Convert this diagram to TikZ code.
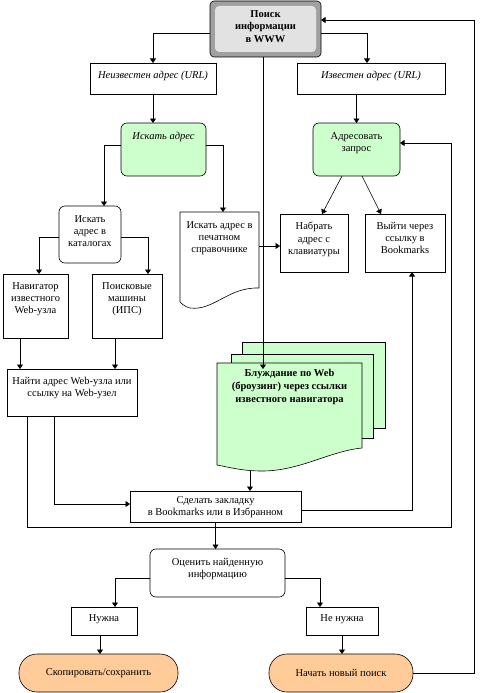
\documentclass[tikz,border=0pt]{standalone}
\usepackage{fontspec}
\setmainfont{Liberation Serif}
\usetikzlibrary{arrows.meta,calc}
\definecolor{lgreen}{HTML}{CCFFCC}
\definecolor{lorange}{HTML}{FFCC99}
\definecolor{bevel}{HTML}{A0A0A0}
\definecolor{panel}{HTML}{E2E2E2}
\begin{document}
\begin{tikzpicture}[x=1pt,y=-1pt,
  font=\fontsize{10.5}{12.2}\selectfont,
  line width=0.6pt,
  box/.style={draw, fill=white, inner sep=0pt, outer sep=0pt},
  rbox/.style={box, rounded corners=6pt},
  gbox/.style={rbox, fill=lgreen},
  pill/.style={box, fill=lorange, rounded corners=18pt},
  lab/.style={anchor=north, align=center, inner sep=0pt},
  ghost/.style={inner sep=0pt, outer sep=0pt},
  docg/.style={draw, fill=lgreen},
  arr/.style={-{Triangle[length=4.5pt,width=6pt]}}]
\fill[white] (0,0) rectangle (479,693);
\useasboundingbox (0,0) rectangle (479,693);

% top node
\node[box, fill=bevel, rounded corners=4pt, minimum width=111pt, minimum height=56pt,
  path picture={\fill[panel] ($(path picture bounding box.north west)+(5pt,-5pt)$) rectangle ($(path picture bounding box.south east)+(-5pt,5pt)$);},
  label={[lab, yshift=-9pt, font=\fontsize{10.5}{12.5}\selectfont\bfseries]north:Поиск\\информации\\в WWW}] (top) at (265.5,29) {};

\node[box, minimum width=126pt, minimum height=31pt,
  label={[lab, yshift=-8pt, font=\fontsize{10.5}{12}\selectfont\itshape]north:Неизвестен адрес (URL)}] (unk) at (153,78.5) {};
\node[box, minimum width=148pt, minimum height=31pt,
  label={[lab, yshift=-8pt, font=\fontsize{10.5}{12}\selectfont\itshape]north:Известен адрес (URL)}] (kn) at (371,78.5) {};

\node[gbox, minimum width=85pt, minimum height=53pt,
  label={[lab, yshift=-9pt, font=\fontsize{10.5}{12}\selectfont\itshape]north:Искать адрес}] (iskat) at (163.5,149.5) {};
\node[gbox, minimum width=87pt, minimum height=53pt,
  label={[lab, yshift=-9pt]north:Адресовать\\запрос}] (adr) at (356.5,149.5) {};

\node[rbox, minimum width=62pt, minimum height=57pt,
  label={[lab, yshift=-9pt]north:Искать\\адрес в\\каталогах}] (iskkat) at (90,234.5) {};

% printed directory (document shape)
\fill[white] (180,212) -- (259,212) -- (259,288) .. controls (228,287) and (214,311) .. (190,308) .. controls (186,307) and (183,305) .. (180,302) -- cycle;
\draw (180,212) -- (259,212) -- (259,288) .. controls (228,287) and (214,311) .. (190,308) .. controls (186,307) and (183,305) .. (180,302) -- cycle;
\node[ghost, minimum width=79pt, minimum height=91pt,
  label={[lab, yshift=-9pt]north:Искать адрес в\\печатном\\справочнике}] (printdoc) at (219.5,257.5) {};

\node[box, minimum width=68pt, minimum height=58pt,
  label={[lab, yshift=-8pt]north:Набрать\\адрес с\\клавиатуры}] (nabrat) at (314,243) {};
\node[box, minimum width=80pt, minimum height=58pt,
  label={[lab, yshift=-8pt]north:Выйти через\\ссылку в\\Bookmarks}] (vyiti) at (405,243) {};

\node[box, minimum width=65pt, minimum height=64pt,
  label={[lab, yshift=-8pt]north:Навигатор\\известного\\Web-узла}] (navig) at (35.5,306) {};
\node[box, minimum width=70pt, minimum height=64pt,
  label={[lab, yshift=-8pt]north:Поисковые\\машины\\(ИПС)}] (poisk) at (127,306) {};

\node[box, minimum width=130pt, minimum height=47pt,
  label={[lab, yshift=-8pt]north:Найти адрес Web-узла или\\ссылку на Web-узел}] (naiti) at (72,392.5) {};

% browsing multi-document
\filldraw[docg] (242,342) rectangle (385,428);
\filldraw[docg] (231,354) rectangle (373,438);
\filldraw[docg] (217,363) -- (362,363) -- (362,448) .. controls (330,451) and (300,471) .. (262,471) .. controls (242,471) and (228,467) .. (217,465) -- cycle;
\node[ghost, minimum width=145pt, minimum height=107pt,
  label={[lab, yshift=-6pt, font=\fontsize{10.5}{13}\selectfont\bfseries]north:Блуждание по Web\\(броузинг) через ссылки\\известного навигатора}] (browse) at (289.5,416.5) {};

\node[box, minimum width=171pt, minimum height=31pt,
  label={[lab, yshift=-5pt]north:Сделать закладку\\в Bookmarks или в Избранном}] (zakl) at (215.5,506.5) {};

\node[rbox, minimum width=135pt, minimum height=48pt,
  label={[lab, yshift=-9pt]north:Оценить найденную\\информацию}] (ocen) at (217.5,573) {};

\node[box, minimum width=66pt, minimum height=28pt,
  label={[lab, yshift=-7pt]north:Нужна}] (nuzhna) at (104,621) {};
\node[box, minimum width=72pt, minimum height=28pt,
  label={[lab, yshift=-7pt]north:Не нужна}] (nenuzh) at (342,621) {};

\node[pill, minimum width=159pt, minimum height=38pt] (copy) at (98.5,673) {Скопировать/сохранить};
\node[pill, minimum width=144pt, minimum height=38pt] (newsearch) at (341,673) {Начать новый поиск};

% connectors
\coordinate (fb) at (451,527);
\coordinate (rt) at (474,20);
\draw[arr] ($(top.west)+(0,4)$) -| (unk.north);
\draw[arr] ($(top.east)+(0,4)$) -| ($(kn.north)+(-4,0)$);
\draw[arr] (unk.south) -- (unk.south |- iskat.north);
\draw[arr] (adr.north |- kn.south) -- (adr.north);
\draw[arr] ($(top.south)+(-2.5,0)$) -- ($(top.south |- browse.north)+(-2.5,6)$);
\draw[arr] ($(iskat.west)+(0,-4.5)$) -| ($(iskkat.north)+(14,0)$);
\draw[arr] ($(iskat.east)+(0,-4.5)$) -| ($(printdoc.north)+(3.5,0)$);
\draw[arr] ($(iskkat.west)+(0,2.5)$) -| ($(navig.north)+(3.5,0)$);
\draw[arr] ($(iskkat.east)+(0,2.5)$) -| ($(poisk.north)+(21,0)$);
\draw[arr] ($(navig.south)+(-15.5,0)$) -- ($(navig.south |- naiti.north)+(-15.5,0)$);
\draw[arr] ($(poisk.south)+(-12,0)$) -- ($(poisk.south |- naiti.north)+(-12,0)$);
\draw[arr] ($(naiti.south)+(-18,0)$) |- ($(zakl.west)+(0,-2.5)$);
\draw[arr] ($(naiti.south)+(-45,0)$) |- (fb) |- ($(adr.east)+(0,-6.5)$);
\draw[arr] ($(printdoc.east)+(0,-11.5)$) -- ($(printdoc.east -| nabrat.west)+(0,-11.5)$);
\draw[arr] ($(adr.south)+(-14.5,0)$) -- ($(nabrat.north)+(8,0)$);
\draw[arr] ($(adr.south)+(5.5,0)$) -- ($(vyiti.north)+(-24,0)$);
\draw[arr] ($(zakl.north |- browse.south)+(34.5,1)$) -- ($(zakl.north)+(34.5,0)$);
\draw[arr] ($(zakl.east)+(0,3.5)$) -| ($(vyiti.south)+(7,0)$);
\draw[arr] (zakl.south) -- (zakl.south |- ocen.north);
\draw[arr] ($(ocen.west)+(0,5)$) -| ($(nuzhna.north)+(11,0)$);
\draw[arr] ($(ocen.east)+(0,5)$) -| ($(nenuzh.north)+(-22,0)$);
\draw[arr] ($(nuzhna.south)+(-4,0)$) -- ($(nuzhna.south |- copy.north)+(-4,0)$);
\draw[arr] (nenuzh.south) -- (nenuzh.south |- newsearch.north);
\draw[arr] (newsearch.east) -| (rt) -- ($(top.east)+(0,-9)$);
\end{tikzpicture}
\end{document}
